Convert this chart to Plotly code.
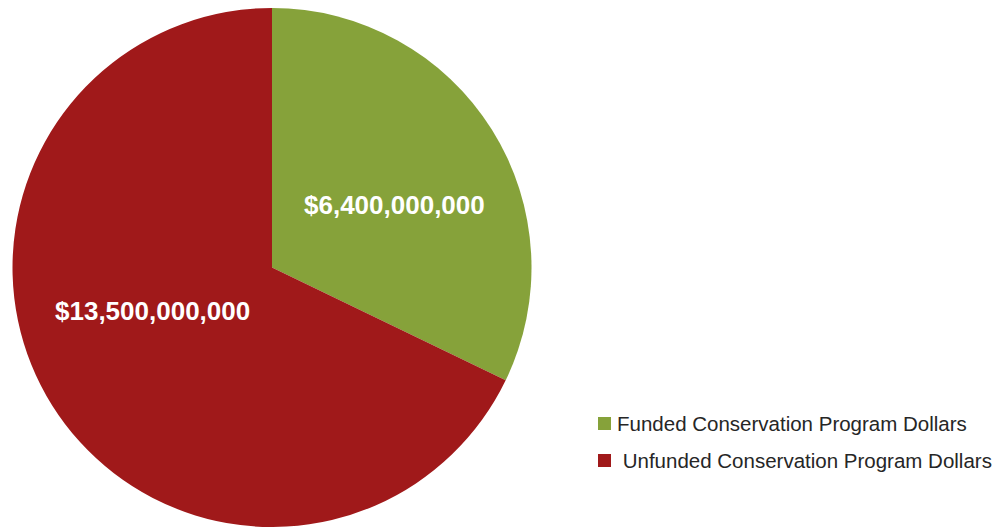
import plotly.graph_objects as go

labels = ["Funded Conservation Program Dollars", "Unfunded Conservation Program Dollars"]
legend_labels = ["Funded Conservation Program Dollars", " Unfunded Conservation Program Dollars"]
values = [6400000000, 13500000000]
colors = ["#86A23A", "#A0191A"]
text_labels = ["${:,.0f}".format(v) for v in values]

W, H = 994, 527

fig = go.Figure()
fig.add_trace(go.Pie(
    labels=labels,
    values=values,
    textinfo="none",
    marker=dict(colors=colors, line=dict(width=0)),
    sort=False,
    direction="clockwise",
    rotation=0,
    domain=dict(x=[12 / W, 532 / W], y=[0, 1 - 8 / H]),
    hoverinfo="label+value",
    showlegend=False,
))

# value labels placed on the slices
label_pos = [(394, 205), (152, 311)]
for txt, (px, py) in zip(text_labels, label_pos):
    fig.add_annotation(
        x=px / W, y=1 - py / H, xref="paper", yref="paper",
        text=txt, showarrow=False, xanchor="center", yanchor="middle",
        font=dict(family="Liberation Sans, Arial", size=26, color="white", weight="bold"),
    )

# legend
legend_y = [423.5, 460.5]
for lab, col, ly in zip(legend_labels, colors, legend_y):
    fig.add_shape(
        type="rect", xref="paper", yref="paper",
        x0=598 / W, x1=611 / W, y0=1 - (ly - 6.5) / H, y1=1 - (ly + 6.5) / H,
        fillcolor=col, line=dict(width=0),
    )
    fig.add_annotation(
        x=615 / W, y=1 - ly / H, xref="paper", yref="paper",
        text=lab.replace(" ", "&nbsp;", 1) if lab.startswith(" ") else lab,
        showarrow=False, xanchor="left", yanchor="middle",
        font=dict(family="Liberation Sans, Arial", size=20.5, color="#262626"),
    )

fig.update_layout(
    width=W, height=H,
    margin=dict(l=0, r=0, t=0, b=0),
    paper_bgcolor="white",
    plot_bgcolor="white",
    showlegend=False,
)

fig.write_html("out.html")
